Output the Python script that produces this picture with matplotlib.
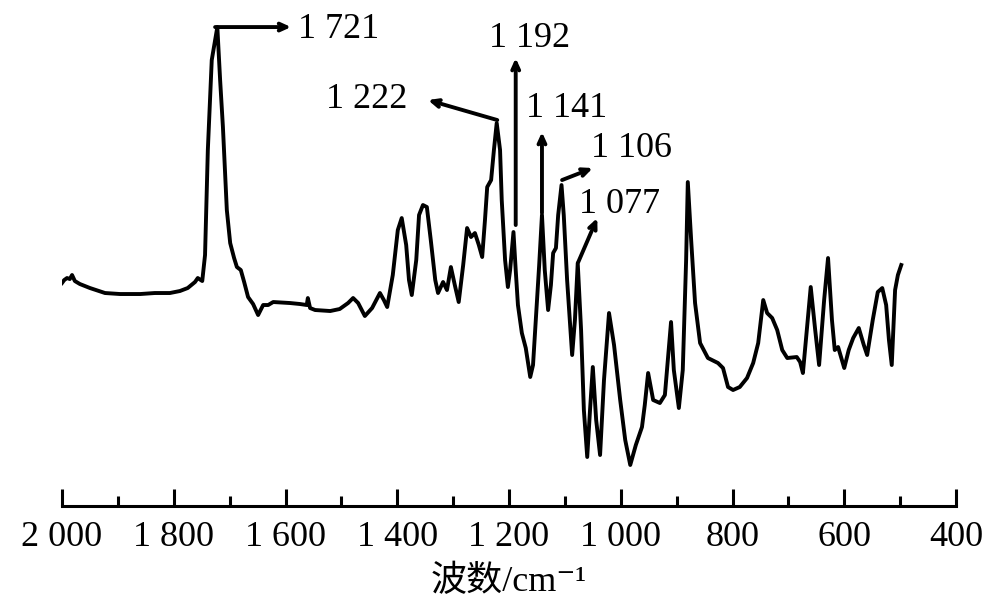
import matplotlib
matplotlib.use("Agg")
import matplotlib.pyplot as plt
from matplotlib.ticker import MultipleLocator, FixedLocator, FixedFormatter

# spectrum (wavenumber in cm-1, intensity in arbitrary units)
wavenumber = [2000, 1996, 1991, 1986, 1982, 1977, 1968, 1950, 1923, 1896,
              1860, 1834, 1807, 1789, 1775, 1762, 1757, 1749, 1744, 1739,
              1732, 1722, 1717, 1712, 1705, 1699, 1692, 1687, 1680, 1674,
              1667, 1658, 1649, 1640, 1631, 1622, 1592, 1574, 1562, 1560,
              1556, 1547, 1520, 1503, 1488, 1479, 1470, 1458, 1445, 1431,
              1424, 1418, 1408, 1399, 1392, 1384, 1379, 1374, 1366, 1361,
              1354, 1347, 1340, 1332, 1327, 1318, 1311, 1304, 1297, 1290,
              1282, 1275, 1268, 1261, 1254, 1248, 1243, 1239, 1232, 1227,
              1222, 1216, 1213, 1207, 1202, 1198, 1192, 1188, 1184, 1177,
              1170, 1162, 1157, 1152, 1146, 1141, 1136, 1130, 1125, 1121,
              1116, 1112, 1106, 1102, 1096, 1087, 1082, 1077, 1071, 1066,
              1060, 1055, 1050, 1044, 1037, 1030, 1021, 1012, 1001, 992,
              983, 973, 962, 957, 951, 942, 930, 921, 915, 910,
              905, 896, 889, 883, 880, 874, 867, 858, 844, 826,
              817, 808, 799, 787, 774, 763, 754, 745, 738, 729,
              720, 711, 702, 685, 679, 674, 667, 660, 652, 645,
              636, 629, 622, 617, 611, 600, 592, 584, 574, 565,
              559, 549, 540, 532, 525, 520, 515, 509, 504, 498]
intensity = [223, 226, 228, 227, 231, 225, 222, 218, 213, 212,
             212, 213, 213, 215, 218, 224, 228, 225, 251, 356,
             446, 479, 426, 379, 296, 263, 248, 239, 236, 224,
             209, 202, 191, 201, 201, 204, 203, 202, 201, 208,
             198, 196, 195, 197, 203, 208, 203, 190, 198, 213,
             206, 199, 231, 276, 288, 261, 226, 211, 246, 291,
             301, 299, 266, 226, 213, 224, 216, 239, 221, 204,
             241, 278, 269, 273, 261, 249, 286, 319, 326, 356,
             383, 356, 306, 246, 219, 236, 274, 236, 201, 173,
             158, 129, 141, 186, 241, 291, 236, 196, 221, 253,
             258, 291, 321, 291, 226, 151, 186, 243, 176, 96,
             49, 96, 139, 86, 51, 126, 193, 161, 106, 66,
             41, 61, 79, 101, 133, 106, 103, 111, 151, 184,
             136, 98, 136, 246, 324, 266, 203, 163, 148, 143,
             138, 119, 116, 119, 128, 143, 163, 206, 193, 188,
             176, 156, 148, 149, 144, 133, 176, 219, 176, 141,
             206, 248, 186, 156, 159, 138, 156, 168, 178, 161,
             151, 186, 214, 218, 201, 166, 141, 216, 231, 241]

# peak labels: text, arrow tail (on the peak), arrow head, text anchor (left, baseline)
peak_labels = ["1 721", "1 222", "1 192", "1 141", "1 106", "1 077"]
arrow_tail = [(1726, 479), (1221, 386), (1188, 281), (1141, 293), (1105, 326), (1076, 244)]
arrow_head = [(1590, 479), (1345, 406), (1188, 448), (1141, 374), (1050, 338), (1042, 288)]
label_pos = [(1578, 468), (1528, 398), (1236, 459), (1170, 389), (1053, 349), (1075, 293)]

xticks = [2000, 1800, 1600, 1400, 1200, 1000, 800, 600, 400]
xticklabels = ["2 000", "1 800", "1 600", "1 400", "1 200", "1 000", "800", "600", "400"]

serif = ["Liberation Serif", "Noto Sans CJK SC", "DejaVu Serif"]
plt.rcParams["font.family"] = serif

fig = plt.figure(figsize=(10, 6.1), dpi=100)
ax = fig.add_axes([0.062, 0.1705, 0.894, 0.813])

ax.plot(wavenumber, intensity, color="black", lw=2.8, solid_joinstyle="round")

for txt, tail, head, pos in zip(peak_labels, arrow_tail, arrow_head, label_pos):
    ax.annotate("", xy=head, xytext=tail,
                arrowprops=dict(arrowstyle="->,head_length=0.55,head_width=0.25",
                                lw=2.8, color="black", shrinkA=0, shrinkB=0))
    ax.text(pos[0], pos[1], txt, fontsize=26, ha="left", va="baseline")

ax.set_xlim(2000, 400)
ax.set_ylim(0, 496)

for s in ["left", "top", "right"]:
    ax.spines[s].set_visible(False)
ax.spines["bottom"].set_linewidth(2.2)
ax.set_yticks([])

ax.xaxis.set_major_locator(FixedLocator(xticks))
ax.xaxis.set_major_formatter(FixedFormatter(xticklabels))
ax.xaxis.set_minor_locator(MultipleLocator(100))
ax.tick_params(axis="x", which="major", direction="in", length=12, width=2.2,
               labelsize=26, pad=11)
ax.tick_params(axis="x", which="minor", direction="in", length=7, width=2.2)

ax.set_xlabel("波数/cm⁻¹", fontsize=26, labelpad=8)

fig.savefig("out.png", dpi=100)
